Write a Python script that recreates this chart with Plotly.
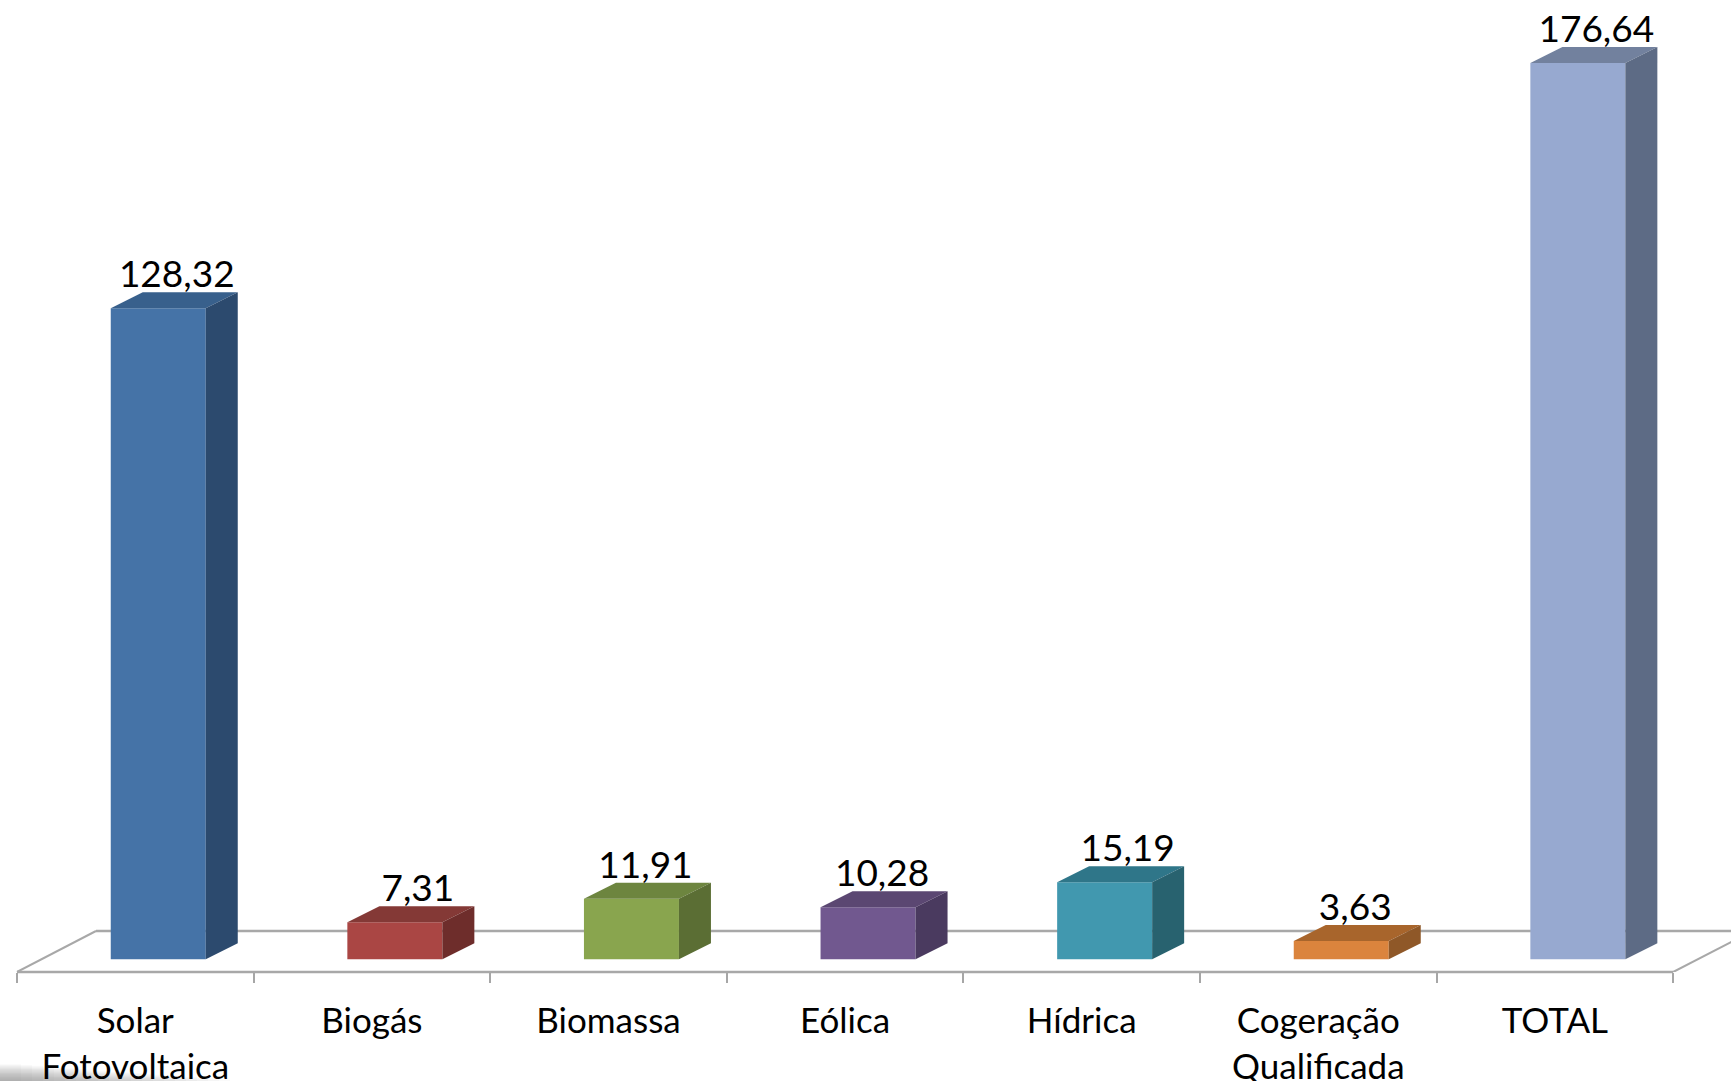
import plotly.graph_objects as go

categories = ["Solar<br>Fotovoltaica", "Biogás", "Biomassa", "Eólica", "Hídrica", "Cogeração<br>Qualificada", "TOTAL"]
values = [128.32, 7.31, 11.91, 10.28, 15.19, 3.63, 176.64]
labels = ["128,32", "7,31", "11,91", "10,28", "15,19", "3,63", "176,64"]
front_colors = ["#4573A7", "#AA4644", "#89A54E", "#71588F", "#4198AF", "#DB843D", "#97A9D0"]
top_colors = ["#38608C", "#843936", "#6D853F", "#5B4772", "#2F7689", "#A8652C", "#72819E"]
side_colors = ["#2C4A6E", "#6E2D2B", "#5B6E34", "#4A3A5F", "#28626F", "#8F5828", "#5D6B85"]

W, H = 1731, 1081
SLOT = 236.6          # px per category
UNIT = 5.074          # px per value unit
X0_PX, Y0_PX = 17.0, 959.3
FLOOR_Y_PX = 972.0

BAR_W = 95.0 / SLOT
BAR_SHIFT = 0.097
DX, DY = 32.0 / SLOT, 16.0 / UNIT
FLOOR_DX = 79.0 / SLOT
FLOOR_FRONT = (Y0_PX - FLOOR_Y_PX) / UNIT
FLOOR_BACK = (Y0_PX - 931.0) / UNIT
LABEL_DX_PX = [18.5, 23.0, 14.0, 14.0, 23.0, 14.0, 18.5]
LABEL_DY = 30.5 / UNIT

n = len(values)
centers = [i + 0.5 + BAR_SHIFT for i in range(n)]

fig = go.Figure()
fig.add_trace(go.Bar(x=centers, y=values, width=BAR_W, marker=dict(color=front_colors, line=dict(width=0)),
                     showlegend=False, hoverinfo="skip"))

for c, v, tc, sc in zip(centers, values, top_colors, side_colors):
    l, r = c - BAR_W / 2, c + BAR_W / 2
    fig.add_trace(go.Scatter(x=[l, r, r + DX, l + DX, l], y=[v, v, v + DY, v + DY, v], mode="lines",
                             fill="toself", fillcolor=tc, line=dict(width=0), showlegend=False, hoverinfo="skip"))
    fig.add_trace(go.Scatter(x=[r, r + DX, r + DX, r, r], y=[0, DY, v + DY, v, 0], mode="lines",
                             fill="toself", fillcolor=sc, line=dict(width=0), showlegend=False, hoverinfo="skip"))

fig.add_trace(go.Scatter(x=[c + d / SLOT for c, d in zip(centers, LABEL_DX_PX)], y=[v + LABEL_DY for v in values],
                         mode="text", text=labels, textposition="middle center",
                         textfont=dict(family="Lato", size=37, color="#000000"),
                         showlegend=False, hoverinfo="skip", cliponaxis=False))

line = dict(color="#A8A8A8", width=2.5)
shapes = [
    dict(type="line", xref="x", yref="paper", x0=0, x1=n, y0=0, y1=0, line=line, layer="below"),
    dict(type="line", xref="x", yref="y", x0=FLOOR_DX, x1=n + FLOOR_DX, y0=FLOOR_BACK, y1=FLOOR_BACK, line=line, layer="below"),
    dict(type="line", xref="x", yref="y", x0=0, x1=FLOOR_DX, y0=FLOOR_FRONT, y1=FLOOR_BACK, line=dict(color="#A8A8A8", width=2), layer="below"),
    dict(type="line", xref="x", yref="y", x0=n, x1=n + FLOOR_DX, y0=FLOOR_FRONT, y1=FLOOR_BACK, line=dict(color="#A8A8A8", width=2), layer="below"),
]

# soft grey smudge in the picture's lower left corner
plot_h = FLOOR_Y_PX
for k in range(1, 21):
    shapes.append(dict(type="rect", xref="paper", yref="paper", x0=0, x1=(10 + 11 * k) / W,
                       y0=-(H - FLOOR_Y_PX) / plot_h, y1=-(H - FLOOR_Y_PX - (22 - k) * 0.8) / plot_h,
                       fillcolor="rgba(120,120,120,0.035)", line=dict(width=0), layer="below"))

fig.update_layout(
    width=W, height=H, autosize=False,
    margin=dict(l=0, r=0, t=0, b=H - FLOOR_Y_PX, pad=0),
    paper_bgcolor="#FFFFFF", plot_bgcolor="#FFFFFF",
    shapes=shapes, showlegend=False,
    xaxis=dict(range=[-X0_PX / SLOT, (W - X0_PX) / SLOT], tickmode="array",
               tickvals=[i + 0.5 for i in range(n)], ticktext=categories, ticks="", showgrid=False,
               zeroline=False, showline=False, automargin=False, ticklabelstandoff=25,
               tickfont=dict(family="Lato", size=35, color="#000000"),
               minor=dict(tickmode="array", tickvals=list(range(n + 1)), ticks="outside", ticklen=10,
                          tickwidth=1.5, tickcolor="#A6A6A6", showgrid=False)),
    yaxis=dict(range=[FLOOR_FRONT, Y0_PX / UNIT], visible=False, fixedrange=True, automargin=False),
)

fig.write_html("out.html", post_script="document.body.style.margin='0';document.body.style.overflow='hidden';",
               config={"displayModeBar": False})
